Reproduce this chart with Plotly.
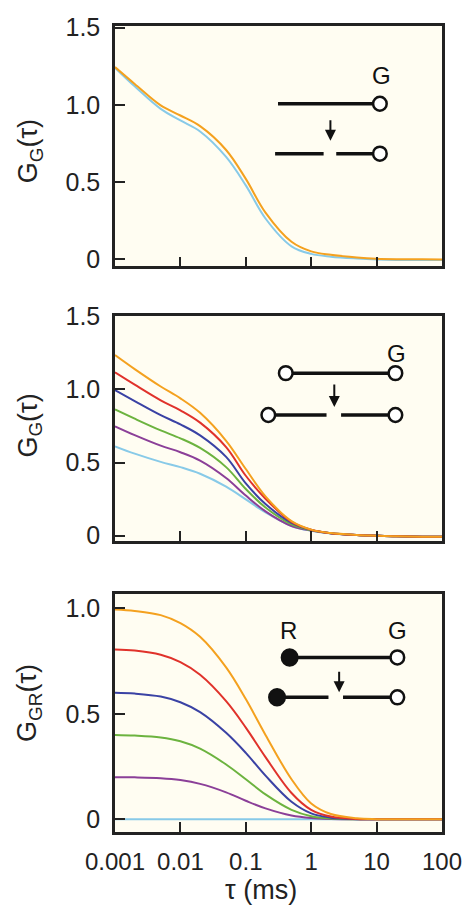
import plotly.graph_objects as go

# tau grid (ms) shared by all curves
tau = [0.001, 0.002, 0.005, 0.01, 0.02, 0.05, 0.1, 0.2, 0.5, 1, 2, 5, 10, 20, 50, 100]

# top panel: G_G(tau), single-labelled DNA before / after cleavage
top_orange = [1.244, 1.135, 0.996, 0.931, 0.862, 0.708, 0.521, 0.303, 0.114, 0.052, 0.030, 0.013, 0.005, 0.002, 0.001, 0.0]
top_lblue = [1.240, 1.120, 0.974, 0.899, 0.828, 0.663, 0.479, 0.265, 0.085, 0.036, 0.018, 0.006, 0.0, -0.003, -0.004, -0.004]

# middle panel: G_G(tau), double-green labelled
mid_orange = [1.235, 1.139, 1.020, 0.939, 0.840, 0.649, 0.456, 0.269, 0.100, 0.042, 0.018, 0.005, 0.0, -0.004, -0.006, -0.007]
mid_red = [1.117, 1.033, 0.926, 0.857, 0.773, 0.606, 0.410, 0.253, 0.095, 0.041, 0.017, 0.005, 0.0, -0.004, -0.006, -0.007]
mid_blue = [0.995, 0.920, 0.824, 0.761, 0.686, 0.539, 0.358, 0.217, 0.088, 0.040, 0.017, 0.005, 0.0, -0.004, -0.006, -0.007]
mid_green = [0.863, 0.800, 0.720, 0.666, 0.600, 0.469, 0.319, 0.193, 0.078, 0.037, 0.017, 0.005, 0.0, -0.004, -0.006, -0.007]
mid_purple = [0.748, 0.688, 0.616, 0.571, 0.514, 0.395, 0.275, 0.167, 0.067, 0.036, 0.017, 0.005, 0.0, -0.004, -0.006, -0.007]
mid_lblue = [0.611, 0.561, 0.505, 0.469, 0.424, 0.336, 0.249, 0.159, 0.067, 0.034, 0.016, 0.005, 0.001, -0.004, -0.006, -0.007]

# bottom panel: cross-correlation G_GR(tau)
bot_orange = [0.995, 0.988, 0.968, 0.930, 0.865, 0.720, 0.570, 0.400, 0.190, 0.075, 0.025, 0.005, 0.001, 0, 0, 0]
bot_red = [0.805, 0.800, 0.780, 0.745, 0.685, 0.560, 0.435, 0.295, 0.125, 0.045, 0.013, 0.002, 0, 0, 0, 0]
bot_blue = [0.600, 0.596, 0.582, 0.555, 0.508, 0.410, 0.315, 0.207, 0.083, 0.028, 0.008, 0.001, 0, 0, 0, 0]
bot_green = [0.400, 0.397, 0.388, 0.370, 0.335, 0.260, 0.190, 0.118, 0.045, 0.015, 0.004, 0.0005, 0, 0, 0, 0]
bot_purple = [0.200, 0.199, 0.195, 0.186, 0.168, 0.128, 0.088, 0.052, 0.018, 0.006, 0.0015, 0, 0, 0, 0, 0]
bot_lblue = [0, 0, 0, 0, 0, 0, 0, 0, 0, 0, 0, 0, 0, 0, 0, 0]

x_ticks = [0.001, 0.01, 0.1, 1, 10, 100]
x_labels = ["0.001", "0.01", "0.1", "1", "10", "100"]

ORANGE = "#f4a11f"
RED = "#e0322b"
BLUE = "#3a42a4"
GREEN = "#6cb33f"
PURPLE = "#8b3f98"
LBLUE = "#88cae8"

W, H = 474, 914
L, R, T, B = 115, 22, 24, 82
PW, PH = W - L - R, H - T - B
FONT = "Liberation Sans, Arial, sans-serif"
INK = "#222222"


def px_x(px):
    return (px - L) / PW


def px_y(py):
    return (H - B - py) / PH


fig = go.Figure()

panels = [
    ("", "y", [(top_lblue, LBLUE), (top_orange, ORANGE)]),
    ("2", "y2", [(mid_lblue, LBLUE), (mid_purple, PURPLE), (mid_green, GREEN),
                 (mid_blue, BLUE), (mid_red, RED), (mid_orange, ORANGE)]),
    ("3", "y3", [(bot_lblue, LBLUE), (bot_purple, PURPLE), (bot_green, GREEN),
                 (bot_blue, BLUE), (bot_red, RED), (bot_orange, ORANGE)]),
]
for suffix, yname, series in panels:
    for vals, col in series:
        fig.add_trace(go.Scatter(
            x=tau, y=vals, mode="lines", line=dict(color=col, width=2, shape="spline"),
            xaxis="x" + suffix, yaxis=yname, showlegend=False, hoverinfo="skip",
        ))

axis_common = dict(
    showline=True, linecolor=INK, linewidth=2.5, mirror=True,
    ticks="inside", ticklen=10, tickwidth=2, tickcolor=INK,
    showgrid=False, zeroline=False,
    tickfont=dict(family=FONT, size=25, color=INK),
)

# pixel bounds of each panel box (top, bottom)
boxes = [(24, 265), (315, 540), (593, 832)]
yranges = [[-0.045, 1.51], [-0.034, 1.5], [-0.06, 1.07]]
yticks = [[0, 0.5, 1.0, 1.5], [0, 0.5, 1.0, 1.5], [0, 0.5, 1.0]]
ylabels = [["0", "0.5", "1.0", "1.5"], ["0", "0.5", "1.0", "1.5"], ["0", "0.5", "1.0"]]

layout = {}
for i, (top, bot) in enumerate(boxes):
    sfx = "" if i == 0 else str(i + 1)
    layout["xaxis" + sfx] = dict(
        axis_common, type="log", range=[-3, 2], domain=[0, 1],
        anchor="y" + sfx, tickvals=x_ticks, ticktext=x_labels,
        showticklabels=(i == 2), ticklabelstandoff=6,
        tickfont=dict(family=FONT, size=24, color=INK),
    )
    layout["yaxis" + sfx] = dict(
        axis_common, range=yranges[i], domain=[px_y(bot), px_y(top)],
        anchor="x" + sfx, tickvals=yticks[i], ticktext=ylabels[i],
        ticklabelstandoff=7,
    )

fig.update_layout(
    width=W, height=H, autosize=False, margin=dict(l=L, r=R, t=T, b=B),
    paper_bgcolor="#ffffff", plot_bgcolor="#fffdf2",
    font=dict(family=FONT, color=INK),
    **layout,
)

ann = []
shapes = []

# y axis titles
for text, py in [("G<sub>G</sub>(τ)", 150), ("G<sub>G</sub>(τ)", 425), ("G<sub>GR</sub>(τ)", 703)]:
    ann.append(dict(x=px_x(27), y=px_y(py), xref="paper", yref="paper", text=text,
                    xanchor="center", yanchor="middle",
                    textangle=-90, showarrow=False, font=dict(family=FONT, size=27, color=INK)))
# x axis title
ann.append(dict(x=px_x(265), y=px_y(890), xref="paper", yref="paper", text="τ (ms)",
                xanchor="center", yanchor="middle",
                showarrow=False, font=dict(family=FONT, size=27, color=INK)))


def seg(x0, x1, y):
    shapes.append(dict(type="line", xref="paper", yref="paper",
                       x0=px_x(x0), x1=px_x(x1), y0=px_y(y), y1=px_y(y),
                       line=dict(color="#111111", width=3.5)))


def dot(cx, cy, r, filled):
    shapes.append(dict(type="circle", xref="paper", yref="paper",
                       x0=px_x(cx - r), x1=px_x(cx + r), y0=px_y(cy + r), y1=px_y(cy - r),
                       line=dict(color="#111111", width=2.5),
                       fillcolor="#111111" if filled else "#ffffff"))


def arrow(x, y0, y1):
    ann.append(dict(x=px_x(x), y=px_y(y1), xref="paper", yref="paper", ax=0, ay=-(y1 - y0),
                    text="", showarrow=True, arrowhead=2, arrowsize=1.1, arrowwidth=2,
                    arrowcolor="#111111"))


def letter(t, x, y):
    ann.append(dict(x=px_x(x), y=px_y(y), xref="paper", yref="paper", text=t,
                    xanchor="center", yanchor="middle",
                    showarrow=False, font=dict(family=FONT, size=24, color="#111111")))


# top inset: single G label
letter("G", 390, 74)
seg(283, 381, 102)
dot(388, 102, 7, False)
arrow(337, 117, 139)
seg(280, 330, 152)
seg(343, 381, 152)
dot(388, 152, 7, False)

# middle inset: G on both ends
letter("G", 405, 352)
seg(298, 397, 372)
dot(291, 372, 7, False)
dot(404, 372, 7, False)
arrow(341, 382, 406)
seg(280, 333, 414)
seg(348, 397, 414)
dot(273, 414, 7, False)
dot(404, 414, 7, False)

# bottom inset: R and G labels
letter("R", 294, 630)
letter("G", 406, 630)
seg(295, 399, 657)
dot(295, 657, 8, True)
dot(406, 657, 7, False)
arrow(346, 670, 692)
seg(282, 335, 697)
seg(350, 399, 697)
dot(282, 697, 8, True)
dot(406, 697, 7, False)

fig.update_layout(annotations=ann, shapes=shapes)
fig.write_html(
    "out.html", config={"displayModeBar": False, "responsive": False},
    post_script="document.body.style.margin='0';"
                "document.body.style.overflow='hidden';"
                "document.documentElement.style.overflow='hidden';",
)
